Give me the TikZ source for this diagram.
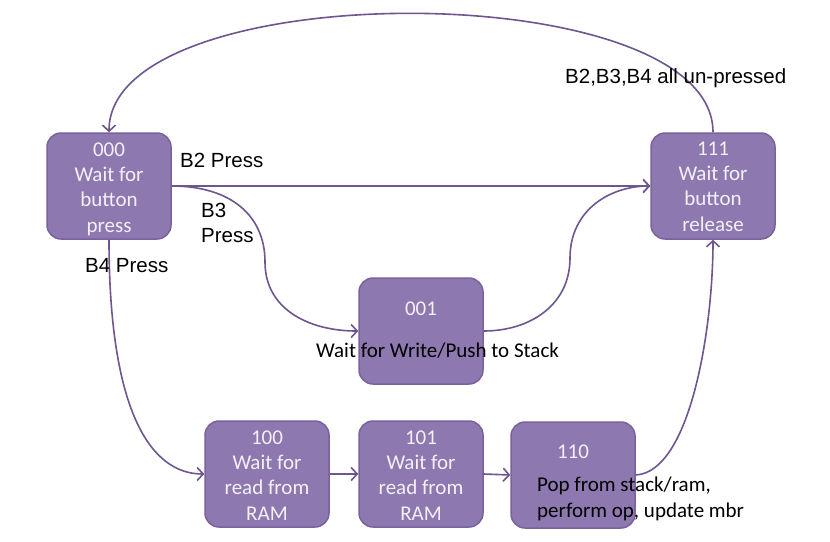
\documentclass[tikz,border=0pt]{standalone}
\usepackage{fontspec}
\setmainfont{Liberation Sans}
\newfontfamily\calib{Carlito}
\usetikzlibrary{arrows.meta}
\definecolor{boxfill}{RGB}{142,120,176}
\definecolor{boxline}{RGB}{122,98,156}
\definecolor{edgecol}{RGB}{110,86,142}
\definecolor{boxtext}{RGB}{243,240,248}
\begin{document}
\begin{tikzpicture}[x=1pt,y=-1pt,
 state/.style={draw=boxline, fill=boxfill, line width=1.5pt, rounded corners=14pt,
   minimum width=124pt, minimum height=106pt, inner sep=0pt},
 boxtxt/.style={text=boxtext, font=\calib\fontsize{21}{25.3}\selectfont, anchor=base, inner sep=0pt, align=center},
 edge/.style={draw=edgecol, line width=1.6pt, -{Straight Barb[length=6pt,width=13pt]}},
 lab/.style={font=\fontsize{20.5}{25}\selectfont, anchor=base west, inner sep=0pt, align=left},
 clab/.style={font=\calib\fontsize{21}{26}\selectfont, anchor=base west, inner sep=0pt, align=left}]
\useasboundingbox[fill=white] (0,0) rectangle (830,541);

\node[state] (s000) at (109,186) {};
\node[state] (s111) at (713,186) {};
\node[state] (s001) at (421,331) {};
\node[state] (s100) at (267,474) {};
\node[state] (s101) at (421,474) {};
\node[state] (s110) at (573,475) {};

\node[boxtxt] (t000) at (109,232) {000\\Wait for\\button\\press};
\node[boxtxt] (t111) at (713,231) {111\\Wait for\\button\\release};
\node[boxtxt] (t100) at (267,520) {100\\Wait for\\read from\\RAM};
\node[boxtxt] (t101) at (421,520) {101\\Wait for\\read from\\RAM};
\node[boxtxt] (n001) at (421,315) {001};
\node[boxtxt] (n110) at (573,458) {110};

\draw[edge] (s000.east) -- (s111.west);
\draw[edge] (s000.east) .. controls (230,186) and (265,215) .. (265,262)
  .. controls (265,310) and (310,331) .. (s001.west);
\draw[edge] (s001.east) .. controls (530,331) and (570,305) .. (570,258)
  .. controls (570,210) and (610,186) .. (s111.west);
\draw[edge] (s000.south) .. controls (109,410) and (150,474) .. (s100.west);
\draw[edge] (s100.east) -- (s101.west);
\draw[edge] (s101.east) -- (s110.west);
\draw[edge] (s110.east) .. controls (690,472) and (713,330) .. (s111.south);
\draw[edge] (s111.north) .. controls (713,-26) and (109,-26) .. (s000.north);

\node[lab] (lb2) at (180,167) {B2 Press};
\node[lab] (lb3) at (201,242) {B3\\Press};
\node[lab] (lb4) at (85,272) {B4 Press};
\node[lab] (lup) at (565,83) {B2,B3,B4 all un-pressed};
\node[clab] (lwr) at (316,357) {Wait for Write/Push to Stack};
\node[clab] (lpop) at (537,517) {Pop from stack/ram,\\perform op, update mbr};
\end{tikzpicture}
\end{document}
